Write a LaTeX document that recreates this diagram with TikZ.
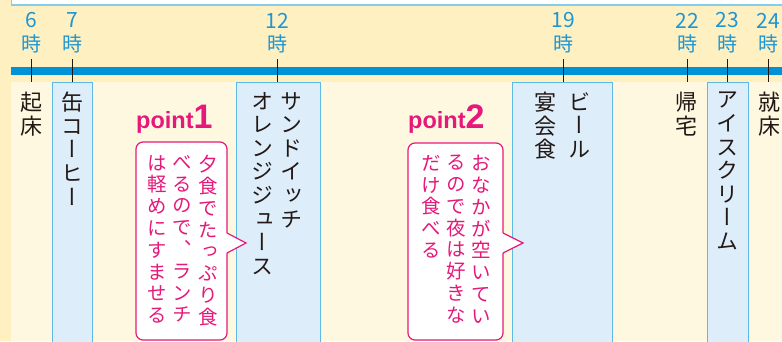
\documentclass[tikz,border=0pt]{standalone}
\usepackage{fontspec}
\newfontfamily\jp[RawFeature=+vert]{Noto Sans CJK JP}
\newfontfamily\jph{Noto Sans CJK JP}
\newfontfamily\pf{Liberation Sans}
\definecolor{ybg}{HTML}{FFF0C2}
\definecolor{cbg}{HTML}{FFF8E1}
\definecolor{barblue}{HTML}{0091D7}
\definecolor{hourblue}{HTML}{1E96D2}
\definecolor{colfill}{HTML}{DDEEFA}
\definecolor{colline}{HTML}{5DB9E6}
\definecolor{pk}{HTML}{E5197A}
\definecolor{boxblue}{HTML}{86CDEB}
\definecolor{ink}{HTML}{231815}
\begin{document}
\begin{tikzpicture}[x=1pt,y=-1pt,
  hour/.style={font=\jph\fontsize{21}{22}\selectfont, text=hourblue, align=center, inner sep=0},
  hourj/.style={font=\jph\fontsize{20}{22}\selectfont, text=hourblue, align=center, inner sep=0},
  vlabel/.style={font=\jp\fontsize{22}{23.6}\selectfont, align=center, inner sep=0, anchor=north, text=ink},
  ptext/.style={font=\jp\fontsize{19.5}{21.8}\selectfont, text=pk, align=center, inner sep=0, anchor=north},
  colbox/.style={fill=colfill, draw=colline, line width=1},
  callout/.style={draw=pk, fill=white, line width=1.2, rounded corners=7},
  tick/.style={draw=ink, line width=0.8},
  ptitle/.style={font=\pf\bfseries\fontsize{23.5}{24}\selectfont, text=pk, inner sep=0, anchor=base west}
]
\useasboundingbox (0,0) rectangle (782,341);
% backgrounds
\fill[ybg] (0,0) rectangle (782,341);
\fill[cbg] (11,82) rectangle (782,341);
\draw[draw=boxblue, fill=white, line width=1.5] (11.5,-10) rectangle (800,5);
\fill[barblue] (11,67) rectangle (782,75);
% columns
\draw[colbox] (52,82) rectangle (92,345);
\draw[colbox] (236,82) rectangle (320,345);
\draw[colbox] (512,82) rectangle (612,345);
\draw[colbox] (707,82) rectangle (748,345);
% hours
\foreach \n/\h/\x in {h6/6/31, h7/7/72, h12/12/277, h19/19/563, h22/22/687, h23/23/727, h24/24/768}{
  \node[hour] (\n) at (\x,20.5) {\h};
  \node[hourj] (\n j) at (\x,44) {時};
  \coordinate (\n t) at (\x,59);
  \coordinate (\n b) at (\x,82);
  \draw[tick] (\n t) -- (\n b);
}
% labels
\node[vlabel] (kisho) at (31,92) {起\\床};
\node[vlabel] (kan) at (72,92) {缶\\コ\\ー\\ヒ\\ー};
\node[vlabel] (sand) at (291,92) {サ\\ン\\ド\\イ\\ッ\\チ};
\node[vlabel] (oj) at (262,92) {オ\\レ\\ン\\ジ\\ジ\\ュ\\ー\\ス};
\node[vlabel] (beer) at (579,92) {ビ\\ー\\ル};
\node[vlabel] (enkai) at (545,92) {宴\\会\\食};
\node[vlabel] (kitaku) at (686,92) {帰\\宅};
\node[vlabel] (ice) at (727,92) {ア\\イ\\ス\\ク\\リ\\ー\\ム};
\node[vlabel] (shusho) at (769,92) {就\\床};
% point 1
\node[ptitle] (p1) at (136,128) {point\fontsize{34}{34}\selectfont1};
\draw[callout] (136,142) rectangle (227,340);
\fill[white] (224,233) -- (227,233) -- (246,243) -- (227,253) -- (224,253) -- cycle;
\draw[pk, line width=1.2] (227,233) -- (246,243) -- (227,253);
\node[ptext] (c1a) at (208,155) {夕\\食\\で\\た\\っ\\ぷ\\り\\食};
\node[ptext] (c1b) at (182,155) {べ\\る\\の\\で\\、\\ラ\\ン\\チ};
\node[ptext] (c1c) at (157,155) {は\\軽\\め\\に\\す\\ま\\せ\\る};
% point 2
\node[ptitle] (p2) at (408,128) {point\fontsize{34}{34}\selectfont2};
\draw[callout] (408,143) rectangle (503,340);
\fill[white] (500,233) -- (503,233) -- (523,243) -- (503,253) -- (500,253) -- cycle;
\draw[pk, line width=1.2] (503,233) -- (523,243) -- (503,253);
\node[ptext] (c2a) at (481,155) {お\\な\\か\\が\\空\\い\\て\\い};
\node[ptext] (c2b) at (456,155) {る\\の\\で\\夜\\は\\好\\き\\な};
\node[ptext] (c2c) at (431,155) {だ\\け\\食\\べ\\る};
\end{tikzpicture}
\end{document}
